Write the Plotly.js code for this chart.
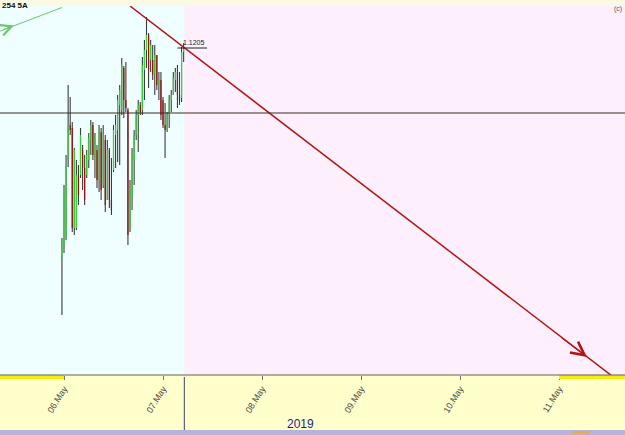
<!DOCTYPE html>
<html>
<head>
<meta charset="utf-8">
<script src="https://cdn.plot.ly/plotly-3.0.1.min.js"></script>
<style>html,body{margin:0;padding:0;background:#ffffcc;}#chart{width:625px;height:435px;}</style>
</head>
<body>
<div id="chart"></div>
<script>
// ---- data (30-minute bars, starting 2019-05-05 23:30) ----
const barStartUTC = Date.UTC(2019, 4, 5, 23, 30);
const barMinutes = 30;
const openP  = [1.11630,1.11656,1.11676,1.11826,1.11896,1.11890,1.11690,1.11690,1.11796,1.11796,
                1.11846,1.11810,1.11796,1.11826,1.11866,1.11896,1.11830,1.11846,1.11786,1.11882,
                1.11776,1.11866,1.11746,1.11846,1.11746,1.11806,1.11876,1.11886,1.11936,1.11926,
                1.12010,1.11946,1.11926,1.11686,1.11756,1.11826,1.11876,1.11916,1.11936,1.11926,
                1.12006,1.12046,1.12076,1.12026,1.12026,1.11996,1.12036,1.11976,1.11986,1.11946,
                1.11896,1.11886,1.11916,1.11946,1.11956,1.11986,1.12002,1.11956,1.11950,1.12042];
const highP  = [1.11670,1.11776,1.11836,1.11976,1.11952,1.11902,1.11850,1.11826,1.11816,1.11890,
                1.11856,1.11836,1.11846,1.11880,1.11906,1.11902,1.11880,1.11856,1.11896,1.11890,
                1.11896,1.11876,1.11866,1.11850,1.11830,1.11896,1.11916,1.11956,1.11976,1.12030,
                1.12014,1.12022,1.11930,1.11786,1.11850,1.11886,1.11926,1.11946,1.11942,1.12032,
                1.12066,1.12112,1.12080,1.12066,1.12056,1.12056,1.12036,1.12002,1.12002,1.11952,
                1.11940,1.11922,1.11956,1.11966,1.12002,1.12010,1.12016,1.12002,1.12052,1.12060];
const lowP   = [1.11516,1.11640,1.11666,1.11812,1.11876,1.11682,1.11676,1.11686,1.11736,1.11790,
                1.11766,1.11736,1.11790,1.11810,1.11836,1.11826,1.11790,1.11770,1.11762,1.11746,
                1.11770,1.11722,1.11746,1.11730,1.11716,1.11802,1.11810,1.11822,1.11816,1.11916,
                1.11910,1.11922,1.11656,1.11682,1.11726,1.11776,1.11866,1.11842,1.11916,1.11916,
                1.11946,1.12010,1.11970,1.12002,1.11986,1.11956,1.11966,1.11946,1.11906,1.11890,
                1.11830,1.11882,1.11890,1.11922,1.11956,1.11962,1.11930,1.11936,1.11942,1.12022];
const closeP = [1.11666,1.11766,1.11816,1.11896,1.11886,1.11690,1.11846,1.11796,1.11756,1.11876,
                1.11810,1.11746,1.11836,1.11870,1.11896,1.11836,1.11870,1.11786,1.11886,1.11766,
                1.11876,1.11736,1.11846,1.11746,1.11726,1.11886,1.11896,1.11946,1.11966,1.12016,
                1.11946,1.11930,1.11676,1.11766,1.11836,1.11876,1.11916,1.11936,1.11922,1.12016,
                1.12046,1.12076,1.12006,1.12056,1.11996,1.12036,1.11976,1.11986,1.11916,1.11896,
                1.11886,1.11916,1.11946,1.11956,1.11990,1.12002,1.11956,1.11946,1.12042,1.12050];

const dayTicks   = ['2019-05-06','2019-05-07','2019-05-08','2019-05-09','2019-05-10','2019-05-11'];
const xRange     = ['2019-05-05 08:29','2019-05-11 16:00'];
const yRange     = [1.11396, 1.12134];
const nowTime    = '2019-05-07 05:10';
const levelPrice = 1.11920;
const lastPrice  = 1.1205;
const lastLabel  = '1.1205';
const lastLineX  = ['2019-05-07 03:30','2019-05-07 10:40'];
const trendX     = ['2019-05-06 16:00','2019-05-11 12:51'];
const trendY     = [1.12134, 1.11394];
const trendArrow = {tailX:'2019-05-11 00:15', tailY:1.11473, headX:'2019-05-11 06:47', headY:1.11432};
const greenX     = ['2019-05-05 08:15','2019-05-05 23:31'];
const greenY     = [1.12083, 1.12131];
const greenArrow = {tailX:'2019-05-05 08:58', tailY:1.12086, headX:'2019-05-05 11:52', headY:1.12095};
const weekendA   = ['2019-05-05 00:00','2019-05-06 00:00'];
const weekendB   = ['2019-05-11 00:00','2019-05-12 00:00'];
const yearLabel  = '2019';
const cornerText = '254 5A';

// ---- build traces ----
function t(i){
  const d = new Date(barStartUTC + i*barMinutes*60000);
  return d.toISOString().slice(0,19).replace('T',' ');
}
const wx=[],wy=[],ux=[],uy=[],dx=[],dy=[];
for(let i=0;i<openP.length;i++){
  const ti=t(i);
  wx.push(ti,ti,null); wy.push(lowP[i],highP[i],null);
  if(closeP[i]>=openP[i]){ux.push(ti,ti,null); uy.push(openP[i],closeP[i],null);}
  else {dx.push(ti,ti,null); dy.push(openP[i],closeP[i],null);}
}
const traces=[
  {x:wx,y:wy,mode:'lines',line:{color:'#3c3c3c',width:1.1},hoverinfo:'skip'},
  {x:ux,y:uy,mode:'lines',line:{color:'#36d136',width:1.2},hoverinfo:'skip'},
  {x:dx,y:dy,mode:'lines',line:{color:'#a00c0c',width:1.2},hoverinfo:'skip'},
  {x:trendX,y:trendY,mode:'lines',line:{color:'#b31414',width:1.5},hoverinfo:'skip'},
  {x:greenX,y:greenY,mode:'lines',line:{color:'#6cc46c',width:1},hoverinfo:'skip'},
  {x:lastLineX,y:[lastPrice,lastPrice],mode:'lines',line:{color:'#222',width:1},hoverinfo:'skip'},
  {x:[nowTime],y:[yRange[0]-0.00007],mode:'markers',marker:{symbol:'diamond',size:6,color:'#2a2a5a'},cliponaxis:false,hoverinfo:'skip'}
];

const H=369; // plot height in px
const shapes=[
  {type:'rect',xref:'paper',yref:'paper',x0:0,x1:1,y0:1,y1:1+7/H,fillcolor:'#fafae4',line:{width:0},layer:'below'},
  {type:'rect',xref:'x',yref:'paper',x0:nowTime,x1:xRange[1],y0:0,y1:1,fillcolor:'#fdf0fc',line:{width:0},layer:'below'},
  {type:'line',xref:'paper',yref:'y',x0:0,x1:1,y0:levelPrice,y1:levelPrice,line:{color:'#3a2c22',width:1}},
  {type:'rect',xref:'x',yref:'paper',x0:weekendA[0],x1:weekendA[1],y0:-4/H,y1:0,fillcolor:'#f4ee10',line:{width:0}},
  {type:'rect',xref:'x',yref:'paper',x0:weekendB[0],x1:weekendB[1],y0:-4/H,y1:0,fillcolor:'#f4ee10',line:{width:0}},
  {type:'line',xref:'paper',yref:'paper',x0:0,x1:1,y0:0,y1:0,line:{color:'#6a5e4a',width:1}},
  {type:'line',xref:'x',yref:'paper',x0:nowTime,x1:nowTime,y0:-2/H,y1:-55/H,line:{color:'#40406a',width:1}},
  {type:'rect',xref:'paper',yref:'paper',x0:0,x1:1,y0:-55/H,y1:-61/H,fillcolor:'#b4b4dc',line:{width:0}},
  {type:'rect',xref:'paper',yref:'paper',x0:572/625,x1:590/625,y0:-56/H,y1:-59/H,fillcolor:'#e6b040',line:{width:0}}
];

const annotations=[
  {x:trendArrow.headX,y:trendArrow.headY,ax:trendArrow.tailX,ay:trendArrow.tailY,axref:'x',ayref:'y',xref:'x',yref:'y',
   showarrow:true,arrowhead:5,arrowsize:2.2,arrowwidth:1.2,arrowcolor:'#b31414',text:''},
  {x:greenArrow.headX,y:greenArrow.headY,ax:greenArrow.tailX,ay:greenArrow.tailY,axref:'x',ayref:'y',xref:'x',yref:'y',
   showarrow:true,arrowhead:5,arrowsize:2.2,arrowwidth:1,arrowcolor:'#6cc46c',text:''},
  {x:lastLineX[0],y:lastPrice,xref:'x',yref:'y',text:lastLabel,showarrow:false,xanchor:'left',yanchor:'bottom',xshift:4,yshift:0,
   font:{family:'Liberation Sans, Arial',size:7,color:'#222'}},
  {x:0,y:1+1/H,xref:'paper',yref:'paper',text:'<b>'+cornerText+'</b>',showarrow:false,xanchor:'left',yanchor:'middle',xshift:0,
   font:{family:'Liberation Sans, Arial',size:8,color:'#111'}},
  {x:1,y:1-3/H,xref:'paper',yref:'paper',text:'(c)',showarrow:false,xanchor:'right',yanchor:'middle',xshift:-1,
   font:{family:'Liberation Sans, Arial',size:7,color:'#555'}},
  {x:300/625,y:-49/H,xref:'paper',yref:'paper',text:yearLabel,showarrow:false,xanchor:'center',yanchor:'middle',
   font:{family:'Liberation Sans, Arial',size:12,color:'#1c1c8c'}}
];

const layout={
  width:625,height:435,margin:{l:0,r:0,t:6,b:60,pad:0},
  paper_bgcolor:'#ffffcc',plot_bgcolor:'#effefe',showlegend:false,hovermode:false,
  xaxis:{type:'date',range:xRange,tickvals:dayTicks,tickformat:'%d.%b',tickangle:-58,
         ticks:'outside',ticklen:4,tickcolor:'#777',showgrid:false,zeroline:false,showline:false,
         tickfont:{family:'Liberation Sans, Arial',size:9,color:'#4a4a4a'},fixedrange:true},
  yaxis:{range:yRange,showgrid:false,zeroline:false,showticklabels:false,ticks:'',showline:false,fixedrange:true},
  shapes:shapes,annotations:annotations
};
Plotly.newPlot('chart',traces,layout,{displayModeBar:false,staticPlot:true});
</script>
</body>
</html>
